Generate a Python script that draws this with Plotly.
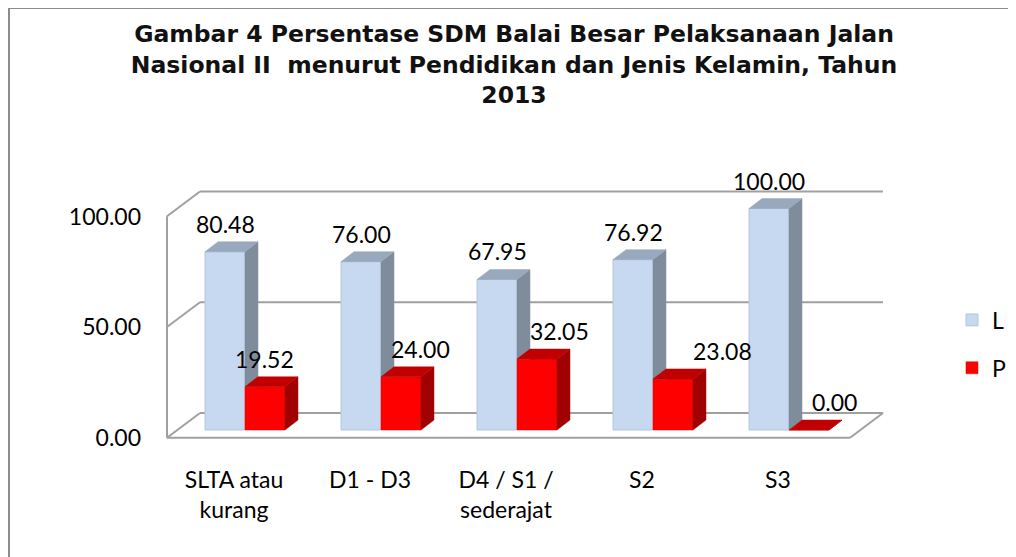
import plotly.graph_objects as go

# ---------------- data ----------------
categories = ["SLTA atau<br>kurang", "D1 - D3", "D4 / S1 /<br>sederajat", "S2", "S3"]
values_L = [80.48, 76.00, 67.95, 76.92, 100.00]
values_P = [19.52, 24.00, 32.05, 23.08, 0.00]
y_ticks = [0, 50, 100]
y_tick_text = ["0.00", "50.00", "100.00"]

# ---------------- style / geometry ----------------
FONT = "Lato, Roboto, sans-serif"
HALF = 0.147            # half width of a bar (x units)
DX, DY = 0.0956, 4.5    # bar depth offsets (x units, y units)
BACK = dict(left=-0.331, right=4.691, dy=7.67)
FRONT = dict(left=-0.5735, right=4.449, dy=-3.48)
GRID_COLOR = "#A0A0A0"
L_COLORS = dict(front="#C6D9F0", side="#7F8C9C", top="#98A9BE", edge="#B4C6DC")
P_COLORS = dict(front="#FF0000", side="#A00000", top="#C00000", edge="#E00000")
LABEL_YSHIFT = 28
LABEL_XSHIFT_P = [0, 20, 23, 50, 26]

idx = list(range(len(categories)))
x_L = [i - HALF for i in idx]
x_P = [i + HALF for i in idx]


def side_faces(centers, vals, bottoms):
    xs, ys = [], []
    for c, v, b in zip(centers, vals, bottoms):
        r = c + HALF
        if b > 0:
            xs += [r, r + DX, r + DX, r, r, None]
            ys += [b, b, v + DY, v, b, None]
        else:
            xs += [r, r + DX, r + DX, r, r, None]
            ys += [0, DY, v + DY, v, 0, None]
    return xs, ys


def top_faces(centers, vals):
    xs, ys = [], []
    for c, v in zip(centers, vals):
        l, r = c - HALF, c + HALF
        xs += [l, l + DX, r + DX, r, l, None]
        ys += [v, v + DY, v + DY, v, v, None]
    return xs, ys


fig = go.Figure()
fig.add_trace(go.Bar(x=x_L, y=values_L, width=2 * HALF, name="L",
                     marker=dict(color=L_COLORS["front"], line=dict(color=L_COLORS["edge"], width=1)),
                     legendgroup="L"))
fig.add_trace(go.Bar(x=x_P, y=values_P, width=2 * HALF, name="P",
                     marker=dict(color=P_COLORS["front"], line=dict(color=P_COLORS["edge"], width=0.5)),
                     legendgroup="P"))

# 3D faces
sx, sy = side_faces(x_L, values_L, [min(p, l) for p, l in zip(values_P, values_L)])
fig.add_trace(go.Scatter(x=sx, y=sy, fill="toself", mode="lines", fillcolor=L_COLORS["side"],
                         line=dict(color=L_COLORS["side"], width=0.5), showlegend=False, hoverinfo="skip"))
tx, ty = top_faces(x_L, values_L)
fig.add_trace(go.Scatter(x=tx, y=ty, fill="toself", mode="lines", fillcolor=L_COLORS["top"],
                         line=dict(color=L_COLORS["top"], width=0.5), showlegend=False, hoverinfo="skip"))
sx, sy = side_faces(x_P, values_P, [0] * len(values_P))
fig.add_trace(go.Scatter(x=sx, y=sy, fill="toself", mode="lines", fillcolor=P_COLORS["side"],
                         line=dict(color=P_COLORS["side"], width=0.5), showlegend=False, hoverinfo="skip"))
tx, ty = top_faces(x_P, values_P)
fig.add_trace(go.Scatter(x=tx, y=ty, fill="toself", mode="lines", fillcolor=P_COLORS["top"],
                         line=dict(color=P_COLORS["top"], width=0.5), showlegend=False, hoverinfo="skip"))

# data labels
annotations = []
for x, v in zip(x_L, values_L):
    annotations.append(dict(x=x, y=v, xref="x", yref="y", text=f"{v:.2f}", showarrow=False,
                            yshift=LABEL_YSHIFT, font=dict(family=FONT, size=23, color="black")))
for x, v, s in zip(x_P, values_P, LABEL_XSHIFT_P):
    annotations.append(dict(x=x, y=v, xref="x", yref="y", text=f"{v:.2f}", showarrow=False,
                            yshift=LABEL_YSHIFT, xshift=s, font=dict(family=FONT, size=23, color="black")))

# walls / floor / gridlines
shapes = []
for t in y_ticks:
    shapes.append(dict(type="line", xref="x", yref="y", x0=BACK["left"], x1=BACK["right"],
                       y0=t + BACK["dy"], y1=t + BACK["dy"], line=dict(color=GRID_COLOR, width=2), layer="below"))
    shapes.append(dict(type="line", xref="x", yref="y", x0=FRONT["left"], x1=BACK["left"],
                       y0=t + FRONT["dy"], y1=t + BACK["dy"], line=dict(color=GRID_COLOR, width=2), layer="below"))
shapes.append(dict(type="line", xref="x", yref="y", x0=FRONT["left"], x1=FRONT["left"],
                   y0=y_ticks[0] + FRONT["dy"], y1=y_ticks[-1] + FRONT["dy"],
                   line=dict(color=GRID_COLOR, width=2), layer="below"))
shapes.append(dict(type="line", xref="x", yref="y", x0=FRONT["left"], x1=FRONT["right"],
                   y0=y_ticks[0] + FRONT["dy"], y1=y_ticks[0] + FRONT["dy"],
                   line=dict(color=GRID_COLOR, width=2), layer="below"))
shapes.append(dict(type="line", xref="x", yref="y", x0=FRONT["right"], x1=BACK["right"],
                   y0=y_ticks[0] + FRONT["dy"], y1=y_ticks[0] + BACK["dy"],
                   line=dict(color=GRID_COLOR, width=2), layer="below"))
# chart border
shapes.append(dict(type="rect", xref="paper", yref="paper", x0=-0.188, x1=1.18, y0=-0.46, y1=1.589,
                   line=dict(color="#8C8C8C", width=2), fillcolor="rgba(0,0,0,0)", layer="below"))

fig.update_layout(
    width=1008, height=549,
    margin=dict(l=142, r=116, t=162, b=112, autoexpand=False),
    paper_bgcolor="white", plot_bgcolor="white",
    barmode="overlay",
    title=dict(text="<b>Gambar 4 Persentase SDM Balai Besar Pelaksanaan Jalan<br>"
                    "Nasional II  menurut Pendidikan dan Jenis Kelamin, Tahun<br>2013</b>",
               font=dict(family="DejaVu Sans, sans-serif", size=23.5, color="#111111"),
               x=0.502, xanchor="center", xref="container", y=0.938, yanchor="top", yref="container"),
    xaxis=dict(range=[-0.6985, 4.8162], tickvals=idx, ticktext=categories, showgrid=False,
               zeroline=False, showline=False, ticks="", ticklabelshift=-11, ticklabelstandoff=19,
               tickfont=dict(family=FONT, size=23, color="black")),
    yaxis=dict(range=[-6.772, 117.38], tickvals=y_ticks, ticktext=y_tick_text, showgrid=False,
               zeroline=False, showline=False, ticks="", ticklabelshift=8, ticklabelstandoff=8,
               tickfont=dict(family=FONT, size=23, color="black")),
    legend=dict(x=1.0693, y=0.533, xanchor="left", yanchor="top", traceorder="grouped",
                tracegroupgap=15, font=dict(family=FONT, size=23, color="black"),
                bgcolor="rgba(0,0,0,0)"),
    annotations=annotations,
    shapes=shapes,
    hovermode=False,
)

fig.write_html("out.html")
